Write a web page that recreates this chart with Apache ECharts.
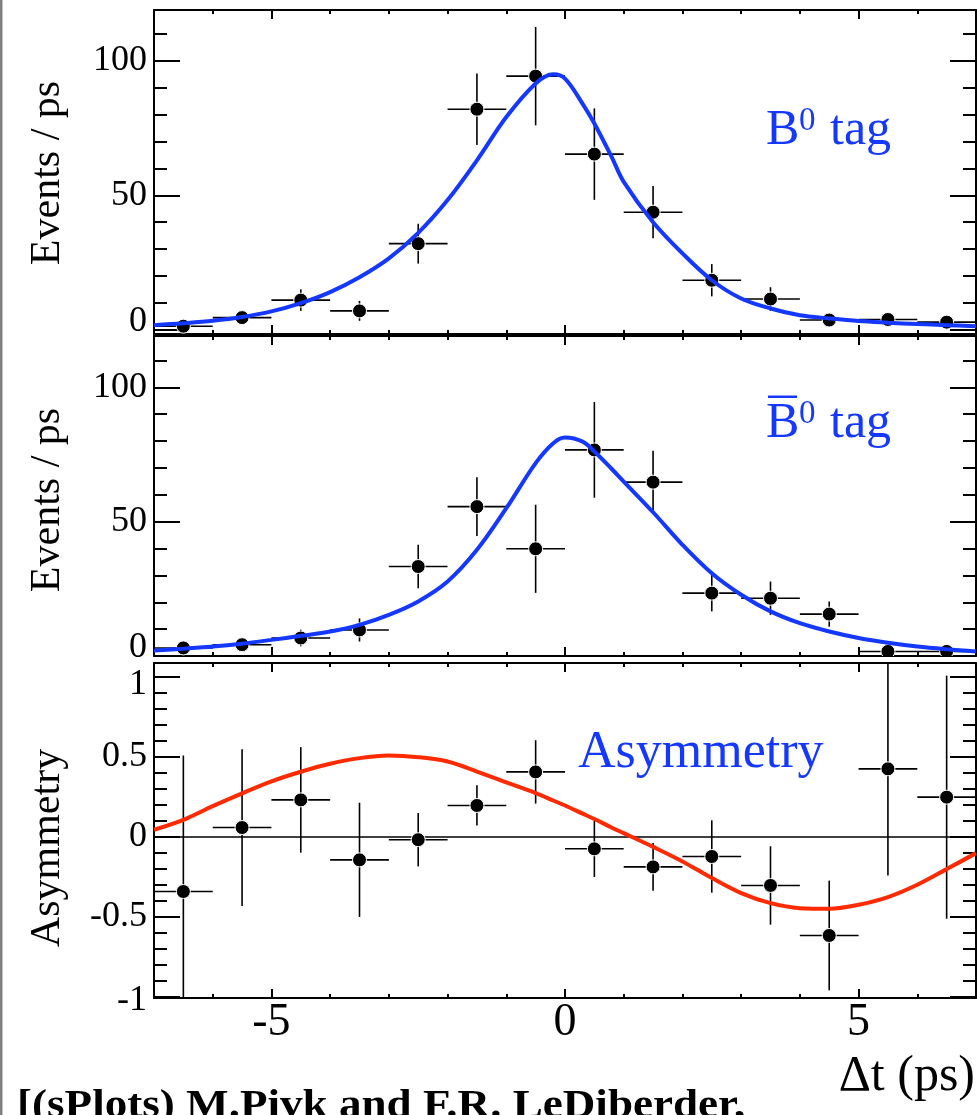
<!DOCTYPE html>
<html>
<head>
<meta charset="utf-8">
<script src="https://cdn.jsdelivr.net/npm/echarts@6/dist/echarts.min.js"></script>
<style>
  html, body { margin: 0; padding: 0; background: #fff; }
  #chart { width: 977px; height: 1115px; }
</style>
</head>
<body>
<div id="chart"></div>
<script>
// Δt bins (ps): centres of the 14 one-ps bins
const binCenters = [-6.5, -5.5, -4.5, -3.5, -2.5, -1.5, -0.5, 0.5, 1.5, 2.5, 3.5, 4.5, 5.5, 6.5];
const BIN_HALF = 0.5;

// B0-tagged events / ps and their uncertainties
const b0Counts = [1.3, 4.5, 11, 7, 32, 82, 94.3, 65.3, 43.7, 18.4, 11.4, 3.6, 3.8, 2.8];
const b0Errs   = [0.8, 1.2, 4, 3.7, 7.4, 13.3, 18.3, 17, 9.7, 6, 4.4, 1.5, 1.5, 1];

// B0bar-tagged events / ps and their uncertainties
const bbCounts = [3, 4.2, 6.7, 9.7, 33.3, 55.6, 39.9, 76.7, 64.7, 23.4, 21.5, 15.6, 1.7, 1.7];
const bbErrs   = [1, 1.5, 3.1, 4.3, 8.1, 10.9, 16.4, 17.8, 11.7, 6.8, 6.2, 4.7, 1, 1];

// Asymmetry per bin and its uncertainty
const asymVals = [-0.344, 0.056, 0.229, -0.146, -0.02, 0.194, 0.404, -0.077, -0.19, -0.125, -0.306, -0.619, 0.423, 0.246];
const asymErrs = [0.85, 0.49, 0.33, 0.357, 0.167, 0.126, 0.198, 0.176, 0.15, 0.226, 0.245, 0.343, 0.667, 0.76];

// Fitted curves, sampled along Δt
const fitX    = [-7, -6.5, -6, -5.5, -5, -4.5, -4, -3.5, -3, -2.5, -2, -1.5, -1, -0.5, -0.2, 0, 0.3, 0.5, 0.8, 1, 1.5, 2, 2.5, 3, 3.5, 4, 4.5, 5, 5.5, 6, 6.5, 7];
const b0Fit   = [1.7, 2.4, 3.3, 4.7, 6.8, 9.9, 14, 19.5, 26.5, 36, 48.2, 63, 79.1, 91.6, 95, 93.4, 84, 76.7, 64, 55, 40, 28.4, 18.4, 11.6, 7.9, 5.4, 4.2, 3.2, 2.6, 2.1, 1.7, 1.3];
const bbFit   = [2.0, 2.7, 3.5, 4.6, 6.0, 7.5, 9.1, 11.6, 15.3, 20.3, 27.7, 39.5, 55, 71.8, 79.2, 81.3, 79.8, 76.1, 69.5, 64.9, 53.5, 41.4, 30.8, 22.8, 16.6, 12.2, 9.1, 6.7, 4.9, 3.5, 2.5, 1.7];
const asymFit = [0.042, 0.104, 0.19, 0.27, 0.345, 0.405, 0.455, 0.49, 0.506, 0.496, 0.469, 0.406, 0.338, 0.271, 0.225, 0.194, 0.143, 0.109, 0.055, 0.021, -0.065, -0.156, -0.26, -0.354, -0.417, -0.448, -0.452, -0.427, -0.379, -0.302, -0.204, -0.104];

// Axis ticks and labels
const xMajorTicks = [-5, 0, 5];
const xMinorTicks = [-6, -4, -3, -2, -1, 1, 2, 3, 4, 6];
const xLabels = [-5, 0, 5];
const evMajorTicks = [0, 50, 100];
const evMinorTicks = [10, 20, 30, 40, 60, 70, 80, 90, 110];
const evLabels = [0, 50, 100];
const asMajorTicks = [-1, -0.5, 0, 0.5, 1];
const asMinorTicks = [-0.9, -0.8, -0.7, -0.6, -0.4, -0.3, -0.2, -0.1, 0.1, 0.2, 0.3, 0.4, 0.6, 0.7, 0.8, 0.9];
const asLabels = [-1, -0.5, 0, 0.5, 1];

const BLUE = '#1438ff';
const RED = '#ff2a00';
const SERIF = '"Liberation Serif", "DejaVu Serif", serif';

const grids = [
  { left: 154, top: 10, width: 822, height: 324 },
  { left: 154, top: 336, width: 822, height: 320 },
  { left: 154, top: 663, width: 822, height: 335 }
];
const yRanges = [[-1.6, 118.9], [0, 119.1], [-1.01, 1.085]];

const frameLine = { show: true, onZero: false, lineStyle: { color: '#000', width: 2 } };
const noLine = { show: false, onZero: false };

function tickStyle(len, values) {
  return { show: true, inside: true, length: len, customValues: values, lineStyle: { color: '#000', width: 2 } };
}

const xAxes = [];
const yAxes = [];
grids.forEach((g, gi) => {
  const isBottom = gi === 2;
  // bottom edge
  xAxes.push({
    gridIndex: gi, type: 'value', min: -7, max: 7, position: 'bottom',
    axisLine: frameLine, axisTick: tickStyle(9, xMajorTicks), splitLine: { show: false },
    axisLabel: isBottom ? {
      show: true, customValues: xLabels, color: '#000', fontFamily: SERIF, fontSize: 46, margin: 2
    } : { show: false }
  });
  xAxes.push({
    gridIndex: gi, type: 'value', min: -7, max: 7, position: 'bottom',
    axisLine: noLine, axisTick: tickStyle(4, xMinorTicks), splitLine: { show: false }, axisLabel: { show: false }
  });
  // top edge
  xAxes.push({
    gridIndex: gi, type: 'value', min: -7, max: 7, position: 'top',
    axisLine: frameLine, axisTick: tickStyle(9, xMajorTicks), splitLine: { show: false }, axisLabel: { show: false }
  });
  xAxes.push({
    gridIndex: gi, type: 'value', min: -7, max: 7, position: 'top',
    axisLine: noLine, axisTick: tickStyle(4, xMinorTicks), splitLine: { show: false }, axisLabel: { show: false }
  });

  const [ymin, ymax] = yRanges[gi];
  const major = isBottom ? asMajorTicks : evMajorTicks;
  const minor = isBottom ? asMinorTicks : evMinorTicks;
  const labels = isBottom ? asLabels : evLabels;
  const labelStyle = {
    show: true, customValues: labels, color: '#000', fontFamily: SERIF, fontSize: 36, margin: 7,
    formatter: function (v) {
      if (!isBottom && v === 0) return '{lo|0}';
      if (isBottom && v === 1) return '{hi|1}';
      if (isBottom && v === -1) return '{mhi|-1}';
      return String(v);
    },
    rich: {
      lo: { fontFamily: SERIF, fontSize: 36, color: '#000', padding: [0, 0, 16, 0] },
      hi: { fontFamily: SERIF, fontSize: 36, color: '#000', padding: [16, 0, 0, 0] },
      mhi: { fontFamily: SERIF, fontSize: 36, color: '#000', padding: [8, 0, 0, 0] }
    }
  };
  yAxes.push({
    gridIndex: gi, type: 'value', min: ymin, max: ymax, position: 'left',
    axisLine: frameLine, axisTick: tickStyle(26, major), splitLine: { show: false }, axisLabel: labelStyle
  });
  yAxes.push({
    gridIndex: gi, type: 'value', min: ymin, max: ymax, position: 'left',
    axisLine: noLine, axisTick: tickStyle(13, minor), splitLine: { show: false }, axisLabel: { show: false }
  });
  yAxes.push({
    gridIndex: gi, type: 'value', min: ymin, max: ymax, position: 'right',
    axisLine: frameLine, axisTick: tickStyle(26, major), splitLine: { show: false }, axisLabel: { show: false }
  });
  yAxes.push({
    gridIndex: gi, type: 'value', min: ymin, max: ymax, position: 'right',
    axisLine: noLine, axisTick: tickStyle(13, minor), splitLine: { show: false }, axisLabel: { show: false }
  });
});

// Data points drawn as ROOT-style markers with x (bin width) and y error bars
function renderPoint(params, api) {
  const x = api.value(0), y = api.value(1), e = api.value(2);
  const c = api.coord([x, y]);
  const l = api.coord([x - BIN_HALF, y]);
  const r = api.coord([x + BIN_HALF, y]);
  const t = api.coord([x, y + e]);
  const b = api.coord([x, y - e]);
  const ls = { stroke: '#000', lineWidth: 1.6 };
  return {
    type: 'group',
    children: [
      { type: 'line', shape: { x1: l[0], y1: c[1], x2: r[0], y2: c[1] }, style: ls },
      { type: 'line', shape: { x1: c[0], y1: t[1], x2: c[0], y2: b[1] }, style: ls },
      { type: 'circle', shape: { cx: c[0], cy: c[1], r: 7 }, style: { fill: '#000', stroke: '#fff', lineWidth: 1 } }
    ]
  };
}

function pointSeries(gi, vals, errs) {
  return {
    type: 'custom', xAxisIndex: gi * 4, yAxisIndex: gi * 4, clip: true, z: 3,
    renderItem: renderPoint,
    data: binCenters.map((x, i) => [x, vals[i], errs[i]])
  };
}

function curveSeries(gi, vals, color, extra) {
  return Object.assign({
    type: 'line', xAxisIndex: gi * 4, yAxisIndex: gi * 4, z: 4,
    smooth: 0.35, showSymbol: false, clip: true,
    lineStyle: { color: color, width: 4 },
    data: fitX.map((x, i) => [x, vals[i]])
  }, extra || {});
}

const series = [
  pointSeries(0, b0Counts, b0Errs),
  curveSeries(0, b0Fit, BLUE),
  pointSeries(1, bbCounts, bbErrs),
  curveSeries(1, bbFit, BLUE),
  pointSeries(2, asymVals, asymErrs),
  curveSeries(2, asymFit, RED, {
    markLine: {
      silent: true, symbol: 'none', label: { show: false }, z: 1,
      lineStyle: { color: '#000', width: 1.5, type: 'solid' },
      data: [{ yAxis: 0 }]
    }
  })
];

function txt(text, x, y, size, color, extra) {
  return Object.assign({
    type: 'text', x: x, y: y, silent: true,
    style: { text: text, font: size + 'px ' + SERIF, fill: color, align: 'left', verticalAlign: 'middle' }
  }, extra || {});
}

function vtxt(text, x, y) {
  return {
    type: 'text', x: x, y: y, rotation: Math.PI / 2, silent: true,
    style: { text: text, font: '42px ' + SERIF, fill: '#000', align: 'center', verticalAlign: 'middle' }
  };
}

const graphic = [
  // left page border
  { type: 'rect', shape: { x: 0, y: 0, width: 2.5, height: 1115 }, style: { fill: '#808080' }, silent: true },
  // panel labels
  txt('B', 766, 130.7, 50, BLUE),
  txt('0', 799, 121, 33, BLUE),
  txt('tag', 830, 130.7, 50, BLUE),
  { type: 'rect', shape: { x: 768, y: 395.5, width: 29, height: 2.5 }, style: { fill: BLUE }, silent: true },
  txt('B', 766, 424, 50, BLUE),
  txt('0', 799, 414.3, 33, BLUE),
  txt('tag', 830, 424, 50, BLUE),
  txt('Asymmetry', 578, 753.4, 52, BLUE),
  // y-axis titles
  vtxt('Events / ps', 48.3, 173),
  vtxt('Events / ps', 48.3, 500),
  vtxt('Asymmetry', 48.3, 848),
  // x-axis title
  { type: 'text', x: 975, y: 1077, silent: true,
    style: { text: 'Δt (ps)', font: '50px ' + SERIF, fill: '#000', align: 'right', verticalAlign: 'middle' } },
  // citation
  { type: 'text', x: 17, y: 1106, scaleX: 1.1, silent: true,
    style: { text: '[(sPlots) M.Pivk and F.R. LeDiberder,', font: 'bold 41px ' + SERIF, fill: '#000', align: 'left', verticalAlign: 'middle' } }
];

const chart = echarts.init(document.getElementById('chart'), null, { renderer: 'canvas' });
chart.setOption({
  animation: false,
  backgroundColor: '#fff',
  grid: grids,
  xAxis: xAxes,
  yAxis: yAxes,
  series: series,
  graphic: graphic
});
</script>
</body>
</html>
